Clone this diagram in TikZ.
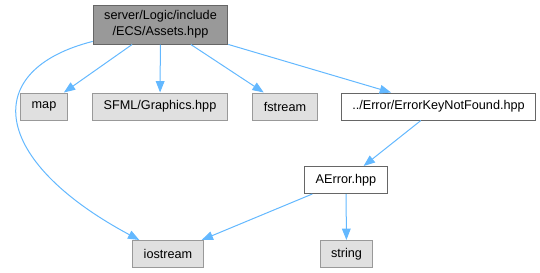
\documentclass[tikz,border=0pt]{standalone}
\usepackage{fontspec}
\setmainfont{Liberation Sans}
\usetikzlibrary{arrows.meta}

\definecolor{edgeblue}{HTML}{63B8FF}
\definecolor{nodegrey}{HTML}{E0E0E0}
\definecolor{rootgrey}{HTML}{999999}
\definecolor{darkline}{HTML}{666666}

\begin{document}
\begin{tikzpicture}[x=0.75pt, y=-0.75pt,
        every node/.style={font=\fontsize{9.5}{12}\selectfont, inner xsep=8.25pt,
            inner ysep=2pt, minimum height=20.25pt, line width=0.75pt},
        root/.style={draw=darkline, fill=rootgrey, align=center, minimum height=29.25pt},
        sys/.style={draw=rootgrey, fill=nodegrey},
        local/.style={draw=darkline, fill=white},
        dep/.style={draw=edgeblue, line width=0.75pt,
            -{Triangle[length=8.5pt, width=6.5pt]}}]
    \useasboundingbox (0,0) rectangle (540,272);

    \node[root] (assets) at (160.5,24.5) {server/Logic/include\\/ECS/Assets.hpp};

    \node[sys] (map) at (44,106.5) {map};
    \node[sys] (sfml) at (160,106.5) {SFML/Graphics.hpp};
    \node[sys] (fstream) at (285,106.5) {fstream};
    \node[local] (keynotfound) at (438.5,106.5) {../Error/ErrorKeyNotFound.hpp};

    \node[local] (aerror) at (346,180) {AError.hpp};

    \node[sys] (iostream) at (168,254) {iostream};
    \node[sys] (string) at (346.5,254) {string};

    \draw[dep] (assets) -- (map);
    \draw[dep] (assets) -- (sfml);
    \draw[dep] (assets) -- (fstream);
    \draw[dep] (assets) -- (keynotfound);
    \draw[dep] (assets.194) .. controls (-20,70) and (-10,160) .. (iostream.154);
    \draw[dep] (keynotfound) -- (aerror);
    \draw[dep] (aerror) -- (iostream);
    \draw[dep] (aerror) -- (string);
\end{tikzpicture}
\end{document}
